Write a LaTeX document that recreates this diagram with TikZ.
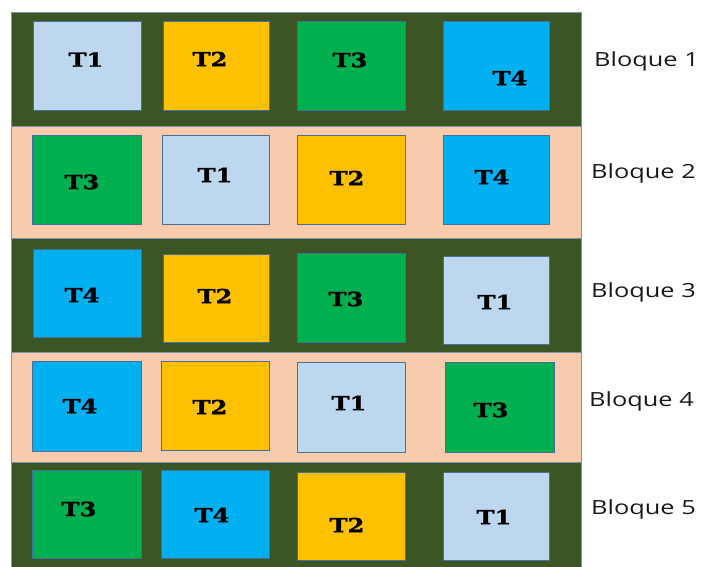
\documentclass[tikz,border=0pt]{standalone}
\usepackage{fontspec}
\newfontfamily\tfont{DejaVu Serif}[BoldFeatures={FakeBold=1.2}]
\newfontfamily\bfont{Open Sans}
\usetikzlibrary{fit}
\definecolor{bandgreen}{HTML}{3B5525}
\definecolor{bandpeach}{HTML}{F8CBAD}
\definecolor{cI}{HTML}{BDD7EE}
\definecolor{cII}{HTML}{FFC000}
\definecolor{cIII}{HTML}{00B050}
\definecolor{cIV}{HTML}{00B0F0}
\definecolor{sqline}{HTML}{41719C}
\definecolor{bandline}{HTML}{7F93B5}
\tikzset{
  band/.style={draw=bandline, line width=1bp, inner sep=0pt, outer sep=0pt},
  sq/.style={draw=sqline, line width=1bp, inner sep=0pt, outer sep=0pt},
  tlab/.style={inner sep=0pt, font=\tfont\bfseries\fontsize{19.5bp}{20bp}\selectfont},
  blab/.style={inner sep=0pt, anchor=base west, font=\bfont\fontsize{19.5bp}{20bp}\selectfont, text=black!90}
}
\newcommand{\parcela}[9]{%
  \node[sq, fill=#6, fit={(#2,#3) (#4,#5)}] (s#1) {};
  \node[tlab] (l#1) at (#8,#9) {\scalebox{1.24}[1]{#7}};
}
\begin{document}
\begin{tikzpicture}[x=1bp,y=-1bp]
\useasboundingbox (0,0) rectangle (703,567);
% bands
\node[band, fill=bandgreen, fit={(11,13) (581,127)}] (b1) {};
\node[band, fill=bandpeach, fit={(11,127) (581,238)}] (b2) {};
\node[band, fill=bandgreen, fit={(11,238) (581,352)}] (b3) {};
\node[band, fill=bandpeach, fit={(11,352) (581,462)}] (b4) {};
\node[band, fill=bandgreen, fit={(11,462) (581,568)}] (b5) {};
% block 1
\parcela{11}{33}{22}{141}{111}{cI}{T1}{86}{59.5}
\parcela{12}{163}{22}{269}{111}{cII}{T2}{210}{59}
\parcela{13}{297}{22}{405}{111}{cIII}{T3}{350}{60}
\parcela{14}{443}{22}{549}{111}{cIV}{T4}{510}{78}
% block 2
\parcela{21}{32}{136}{141}{224}{cIII}{T3}{82}{182}
\parcela{22}{162}{136}{269}{224}{cI}{T1}{215}{175}
\parcela{23}{297}{136}{405}{224}{cII}{T2}{347}{178}
\parcela{24}{443}{136}{549}{224}{cIV}{T4}{492}{177}
% block 3
\parcela{31}{33}{249}{141}{337}{cIV}{T4}{82}{295}
\parcela{32}{163}{254}{269}{342}{cII}{T2}{215}{296}
\parcela{33}{297}{253}{405}{342}{cIII}{T3}{346}{299}
\parcela{34}{443}{256}{549}{344}{cI}{T1}{495}{302}
% block 4
\parcela{41}{32}{361}{141}{451}{cIV}{T4}{80}{406}
\parcela{42}{161}{361}{269}{450}{cII}{T2}{210}{407}
\parcela{43}{297}{362}{405}{452}{cI}{T1}{349}{403}
\parcela{44}{445}{362}{554}{452}{cIII}{T3}{491}{410}
% block 5
\parcela{51}{32}{470}{141}{558}{cIII}{T3}{79}{509}
\parcela{52}{161}{470}{269}{558}{cIV}{T4}{212}{515}
\parcela{53}{297}{472}{405}{560}{cII}{T2}{347}{525}
\parcela{54}{443}{472}{549}{560}{cI}{T1}{494}{517}
% labels
\node[blab] (q1) at (594,66.7) {\scalebox{1.3}[1]{Bloque 1}};
\node[blab] (q2) at (591,179) {\scalebox{1.3}[1]{Bloque 2}};
\node[blab] (q3) at (591,297) {\scalebox{1.3}[1]{Bloque 3}};
\node[blab] (q4) at (589,406.7) {\scalebox{1.3}[1]{Bloque 4}};
\node[blab] (q5) at (591,514) {\scalebox{1.3}[1]{Bloque 5}};
\end{tikzpicture}
\end{document}
